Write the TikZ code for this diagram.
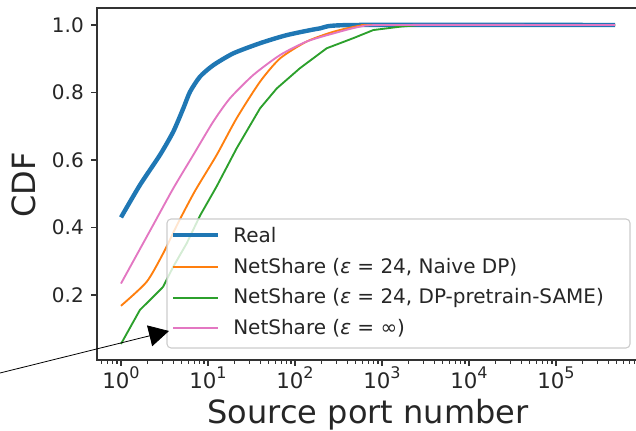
\documentclass[tikz,border=0pt]{standalone}
\usepackage{fontspec}
\setmainfont{DejaVu Sans}
\usetikzlibrary{arrows.meta}
\definecolor{tabblue}{HTML}{1F77B4}
\definecolor{taborange}{HTML}{FF7F0E}
\definecolor{tabgreen}{HTML}{2CA02C}
\definecolor{tabpink}{HTML}{E377C2}
\definecolor{spinegray}{HTML}{333333}
\newcommand{\decade}[1]{10\raisebox{7.5pt}{\fontsize{12}{12}\selectfont #1}}
\tikzset{
  ticklabel/.style={font=\fontsize{15}{15}\selectfont, text=black!85, inner sep=0pt},
  decadelabel/.style={font=\fontsize{16}{16}\selectfont, text=black!85, inner sep=0pt, anchor=base},
  axislabel/.style={font=\fontsize{24}{24}\selectfont, text=black!85, inner sep=0pt},
  legendtext/.style={font=\fontsize{15}{15}\selectfont, text=black!85, anchor=west, inner sep=0pt},
  realcurve/.style={tabblue, line width=3.3pt, line join=round},
  fakecurve/.style={line width=1.4pt, line join=round},
  pointer/.style={-{Triangle[length=15pt,width=16pt]}, line width=0.6pt}
}
\begin{document}
\begin{tikzpicture}[x=0.75pt,y=-0.75pt]
    \useasboundingbox (0,0) rectangle (636,431);
    % curves, in decades and CDF
    \begin{scope}[shift={(121,362.5)}, x={(65.25pt,0pt)}, y={(0pt,253.125pt)}]
    \draw[realcurve] plot[smooth, tension=0.4] coordinates {(0,0.430) (0.218,0.526) (0.448,0.615) (0.601,0.684) (0.716,0.753) (0.793,0.802) (0.908,0.847) (1.061,0.881) (1.291,0.916) (1.598,0.946) (1.905,0.970) (2.287,0.990) (2.667,1.0) (5.68,1.0)};
    \draw[fakecurve, taborange] plot[smooth, tension=0.4] coordinates {(0,0.168) (0.295,0.239) (0.486,0.324) (0.659,0.415) (0.850,0.508) (1.100,0.615) (1.330,0.724) (1.598,0.832) (1.828,0.901) (2.134,0.951) (2.441,0.980) (2.747,0.998) (2.977,1.0) (5.68,1.0)};
    \draw[fakecurve, tabgreen] plot coordinates {(0,0.055) (0.218,0.156) (0.333,0.185) (0.483,0.224) (0.601,0.284) (0.755,0.353) (0.908,0.435) (1.100,0.522) (1.330,0.635) (1.598,0.753) (1.790,0.812) (2.057,0.872) (2.364,0.931) (2.670,0.961) (2.900,0.985) (3.207,0.995) (3.437,1.0) (5.68,1.0)};
    \draw[fakecurve, tabpink] plot[smooth, tension=0.4] coordinates {(0,0.234) (0.371,0.408) (0.601,0.516) (0.831,0.615) (1.061,0.714) (1.253,0.783) (1.521,0.852) (1.828,0.911) (2.134,0.951) (2.441,0.975) (2.747,0.995) (3.054,1.0) (5.68,1.0)};
    \end{scope}
    % frame and ticks
    \draw[spinegray, line width=1.2pt] (640,8) -- (97,8) -- (97,360) -- (640,360);
    \foreach \v/\py/\n in {0.2/295/a, 0.4/227.5/b, 0.6/160/c, 0.8/92.5/d, 1.0/25/e} {
      \draw[spinegray, line width=1pt] (97,\py) -- (91,\py);
      \node[ticklabel, anchor=east] (ytick\n) at (84,\py) {\v};
    }
    \foreach \e in {0,...,5} {
      \draw[spinegray, line width=1pt] ({121+87*\e},360) -- ++(0,6);
      \node[decadelabel] (xtick\e) at ({121+87*\e},388) {\decade{\e}};
    }
    \begin{scope}
    \clip (97,355) rectangle (636,370);
    \foreach \e in {-1,...,5}
      \foreach \k in {2,...,9}
        \draw[spinegray, line width=0.8pt] ({121+87*\e+87*log10(\k)},360) -- ++(0,3.5);
    \end{scope}
    \node[axislabel, rotate=90] (ylabel) at (24,185) {CDF};
    \node[axislabel, anchor=base] (xlabel) at (368,423) {Source port number};
    % legend
    \draw[draw=black!20, fill=white, fill opacity=0.8, rounded corners=3pt, line width=0.8pt] (167,219) rectangle (630,348);
    \draw[realcurve] (173,235) -- (218,235);
    \draw[fakecurve, taborange] (173,267) -- (218,267);
    \draw[fakecurve, tabgreen] (173,298) -- (218,298);
    \draw[fakecurve, tabpink] (173,328) -- (218,328);
    \node[legendtext] (real) at (233,235) {Real};
    \node[legendtext] (naive) at (233,267) {NetShare (\textit{ε} = 24, Naive DP)};
    \node[legendtext] (same) at (233,298) {NetShare (\textit{ε} = 24, DP-pretrain-SAME)};
    \node[legendtext] (inf) at (233,328) {NetShare (\textit{ε} = ∞)};
    % arrow from outside
    \coordinate (arrowstart) at (0,373);
    \coordinate (arrowend) at (169,331);
    \draw[pointer] (arrowstart) -- (arrowend);
\end{tikzpicture}
\end{document}
